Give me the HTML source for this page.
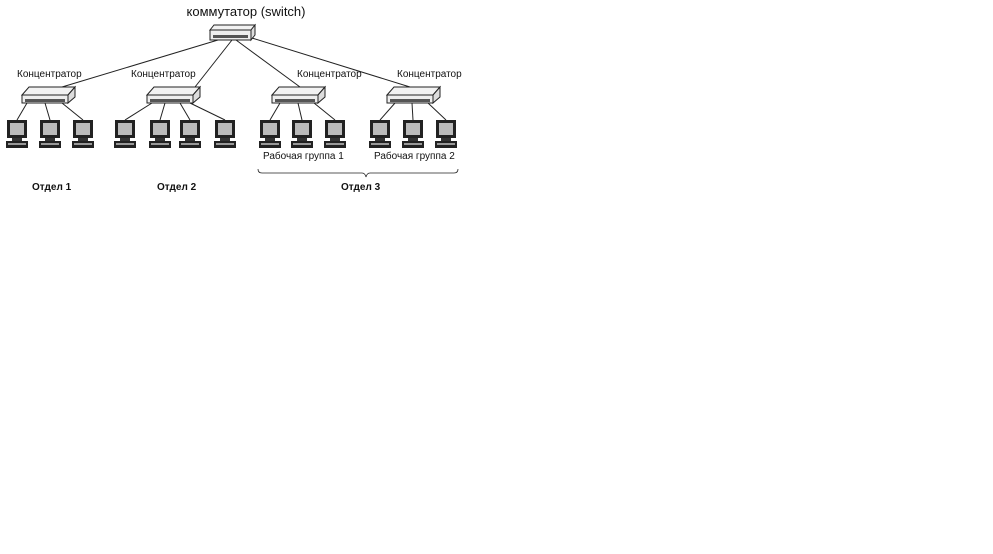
<!DOCTYPE html>
<html><head><meta charset="utf-8"><style>
html,body{margin:0;padding:0;background:#fff;width:993px;height:554px;overflow:hidden}
svg{position:absolute;left:0;top:0}
text{font-family:"Liberation Sans",sans-serif;fill:#111}
</style></head><body>
<svg width="993" height="554" viewBox="0 0 993 554">
<defs>
<g id="hub">
<polygon points="0,8 7,0 53,0 46,8" fill="#f2f2f2" stroke="#222" stroke-width="1"/>
<polygon points="46,8 53,0 53,10 46,16" fill="#ddd" stroke="#222" stroke-width="1"/>
<rect x="0" y="8" width="46" height="8" fill="#eee" stroke="#222" stroke-width="1"/>
<rect x="3" y="12" width="40" height="3" fill="#555"/>
</g>
<g id="pc">
<rect x="0" y="0" width="20" height="18" fill="#222"/>
<rect x="3" y="3" width="14" height="12" fill="#bbb"/>
<rect x="5" y="18" width="10" height="3" fill="#333"/>
<rect x="-1" y="21" width="22" height="7" fill="#222"/>
<rect x="1" y="23" width="18" height="2" fill="#999"/>
</g>
</defs>
<text x="246" y="16" font-size="13" text-anchor="middle">коммутатор (switch)</text>
<!-- switch -->
<g transform="translate(210,25)">
<polygon points="0,5 4,0 45,0 41,5" fill="#f2f2f2" stroke="#222"/>
<polygon points="41,5 45,0 45,10 41,15" fill="#ddd" stroke="#222"/>
<rect x="0" y="5" width="41" height="10" fill="#eee" stroke="#222"/>
<rect x="3" y="10" width="35" height="3" fill="#555"/>
</g>
<g stroke="#222" stroke-width="1" fill="none">
<line x1="218" y1="40" x2="62" y2="87"/>
<line x1="232" y1="40" x2="195" y2="87"/>
<line x1="236" y1="40" x2="300" y2="87"/>
<line x1="252" y1="38" x2="410" y2="87"/>
<!-- hub1 -->
<line x1="27" y1="103" x2="17" y2="120"/><line x1="45" y1="103" x2="50" y2="120"/><line x1="62" y1="103" x2="83" y2="120"/>
<!-- hub2 -->
<line x1="152" y1="103" x2="125" y2="120"/><line x1="165" y1="103" x2="160" y2="120"/><line x1="180" y1="103" x2="190" y2="120"/><line x1="190" y1="103" x2="225" y2="120"/>
<!-- hub3 -->
<line x1="280" y1="103" x2="270" y2="120"/><line x1="298" y1="103" x2="302" y2="120"/><line x1="314" y1="103" x2="335" y2="120"/>
<!-- hub4 -->
<line x1="395" y1="103" x2="380" y2="120"/><line x1="412" y1="103" x2="413" y2="120"/><line x1="428" y1="103" x2="446" y2="120"/>
<path d="M258,169 Q258,173 262,173 L362,173 Q365,173 366,177 Q367,173 370,173 L454,173 Q458,173 458,169" stroke-width="0.8"/>
</g>
<use href="#hub" x="22" y="87"/>
<use href="#hub" x="147" y="87"/>
<use href="#hub" x="272" y="87"/>
<use href="#hub" x="387" y="87"/>
<use href="#pc" x="7" y="120"/><use href="#pc" x="40" y="120"/><use href="#pc" x="73" y="120"/>
<use href="#pc" x="115" y="120"/><use href="#pc" x="150" y="120"/><use href="#pc" x="180" y="120"/><use href="#pc" x="215" y="120"/>
<use href="#pc" x="260" y="120"/><use href="#pc" x="292" y="120"/><use href="#pc" x="325" y="120"/>
<use href="#pc" x="370" y="120"/><use href="#pc" x="403" y="120"/><use href="#pc" x="436" y="120"/>
<g font-size="10">
<text x="17" y="77">Концентратор</text>
<text x="131" y="77">Концентратор</text>
<text x="297" y="77">Концентратор</text>
<text x="397" y="77">Концентратор</text>
<text x="263" y="159">Рабочая группа 1</text>
<text x="374" y="159">Рабочая группа 2</text>
</g>
<g font-size="10" font-weight="bold">
<text x="32" y="190">Отдел 1</text>
<text x="157" y="190">Отдел 2</text>
<text x="341" y="190">Отдел 3</text>
</g>
</svg>
</body></html>
